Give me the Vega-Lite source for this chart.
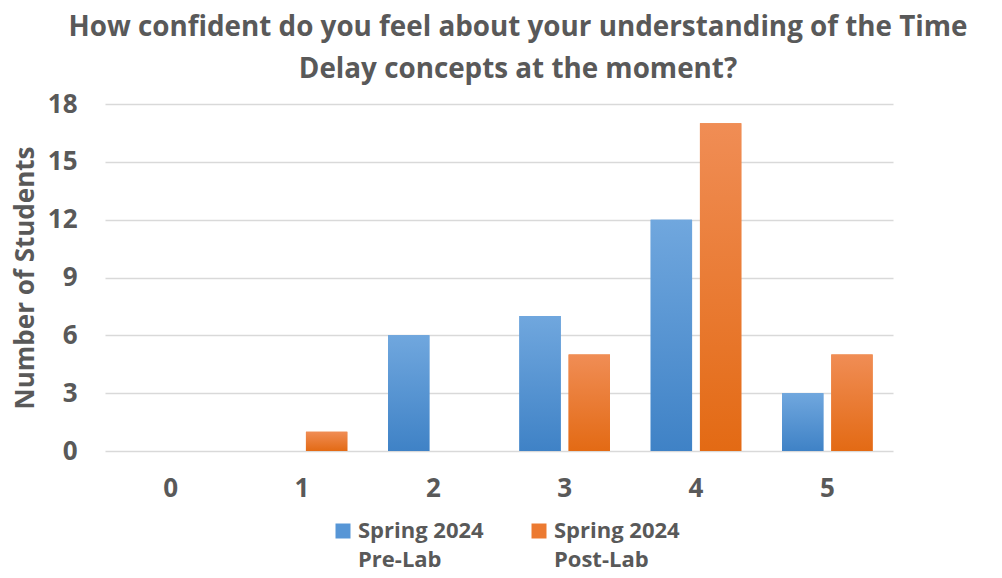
{
  "$schema": "https://vega.github.io/schema/vega-lite/v6.json",
  "autosize": {"type": "none"},
  "width": 788,
  "height": 347,
  "padding": {"left": 105, "top": 104, "right": 109, "bottom": 127},
  "background": "white",
  "title": {
    "text": ["How confident do you feel about your understanding of the Time", "Delay concepts at the moment?"],
    "anchor": "middle",
    "frame": "group",
    "dx": 19,
    "offset": 7,
    "fontSize": 27.8,
    "lineHeight": 42,
    "fontWeight": "bold",
    "color": "#595959"
  },
  "data": {
    "values": [
      {"score": "0", "group": "Spring 2024 Pre-Lab", "count": 0},
      {"score": "0", "group": "Spring 2024 Post-Lab", "count": 0},
      {"score": "1", "group": "Spring 2024 Pre-Lab", "count": 0},
      {"score": "1", "group": "Spring 2024 Post-Lab", "count": 1},
      {"score": "2", "group": "Spring 2024 Pre-Lab", "count": 6},
      {"score": "2", "group": "Spring 2024 Post-Lab", "count": 0},
      {"score": "3", "group": "Spring 2024 Pre-Lab", "count": 7},
      {"score": "3", "group": "Spring 2024 Post-Lab", "count": 5},
      {"score": "4", "group": "Spring 2024 Pre-Lab", "count": 12},
      {"score": "4", "group": "Spring 2024 Post-Lab", "count": 17},
      {"score": "5", "group": "Spring 2024 Pre-Lab", "count": 3},
      {"score": "5", "group": "Spring 2024 Post-Lab", "count": 5}
    ]
  },
  "encoding": {
    "x": {
      "field": "score",
      "type": "ordinal",
      "scale": {"paddingInner": 0.31, "paddingOuter": 0.155},
      "axis": {
        "title": null,
        "labelAngle": 0,
        "labelFontSize": 26,
        "labelFontWeight": "bold",
        "labelColor": "#595959",
        "labelPadding": 24,
        "ticks": false,
        "domain": false
      }
    },
    "xOffset": {
      "field": "group",
      "type": "nominal",
      "sort": ["Spring 2024 Pre-Lab", "Spring 2024 Post-Lab"],
      "scale": {"paddingInner": 0.16}
    },
    "y": {
      "field": "count",
      "type": "quantitative",
      "scale": {"domain": [0, 18], "nice": false},
      "axis": {
        "title": "Number of Students",
        "titleFontSize": 26,
        "titleFontWeight": "bold",
        "titleColor": "#595959",
        "titlePadding": 9,
        "values": [0, 3, 6, 9, 12, 15, 18],
        "labelFontSize": 26,
        "labelFontWeight": "bold",
        "labelColor": "#595959",
        "labelPadding": 28,
        "ticks": false,
        "domain": false,
        "gridColor": "#d9d9d9",
        "gridWidth": 1.5
      }
    }
  },
  "layer": [
    {
      "mark": {"type": "bar"},
      "encoding": {
        "color": {
          "field": "group",
          "type": "nominal",
          "scale": {
            "domain": ["Spring 2024 Pre-Lab", "Spring 2024 Post-Lab"],
            "range": ["#5796d6", "#ec7a31"]
          },
          "legend": {
            "title": null,
            "orient": "none",
            "legendX": 227,
            "legendY": 416,
            "direction": "horizontal",
            "padding": 0,
            "symbolType": "square",
            "symbolSize": 225,
            "symbolStrokeWidth": 0,
            "symbolOpacity": 1,
            "labelFontSize": 22,
            "labelFontWeight": "bold",
            "labelColor": "#595959",
            "labelBaseline": "middle",
            "labelLimit": 300,
            "columnPadding": 44,
            "labelExpr": "[slice(datum.label, 0, 11), slice(datum.label, 12)]"
          }
        }
      }
    },
    {
      "mark": {"type": "bar"},
      "encoding": {
        "color": {
          "condition": {
            "test": "datum.group === 'Spring 2024 Pre-Lab'",
            "value": {"gradient": "linear", "x1": 0, "y1": 0, "x2": 0, "y2": 1, "stops": [{"offset": 0, "color": "#70a7de"}, {"offset": 1, "color": "#3f82c6"}]}
          },
          "value": {"gradient": "linear", "x1": 0, "y1": 0, "x2": 0, "y2": 1, "stops": [{"offset": 0, "color": "#f08d55"}, {"offset": 1, "color": "#e36a14"}]}
        }
      }
    }
  ],
  "config": {
    "font": "Open Sans, sans-serif",
    "view": {"stroke": null},
    "style": {"guide-label": {"lineHeight": 29}}
  }
}
